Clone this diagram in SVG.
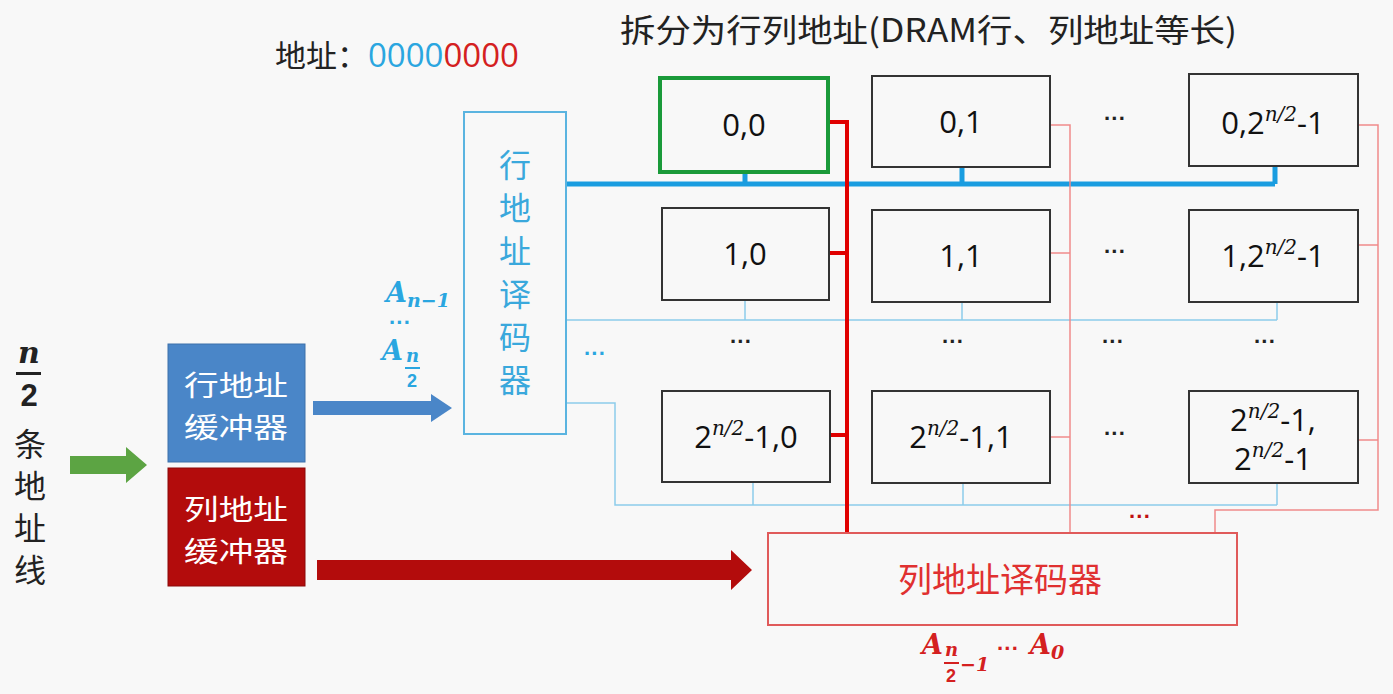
<svg xmlns="http://www.w3.org/2000/svg" width="1393" height="694" viewBox="0 0 1393 694">
<defs>
<style>
.cn{font-family:"Noto Sans CJK SC","Noto Sans",sans-serif;}
.cell{fill:#f8f8f8;stroke:#333;stroke-width:2;}
.ct{font-family:"Open Sans","Liberation Sans",sans-serif;font-size:31px;fill:#111;text-anchor:middle;}
.sup{font-family:"DejaVu Serif","Liberation Serif",serif;font-style:italic;font-size:20px;}
.math{font-family:"DejaVu Serif","Liberation Serif",serif;font-style:italic;font-weight:bold;}
.dots{font-family:"Liberation Sans",sans-serif;font-size:22px;font-weight:bold;text-anchor:middle;}
.bb{stroke:#1a9de0;stroke-width:5;fill:none;}
.bt{stroke:#8cccea;stroke-width:1.5;fill:none;}
.rb{stroke:#e00000;stroke-width:4;fill:none;}
.rt{stroke:#f08a8a;stroke-width:1.5;fill:none;}
.buf{font-size:28px;fill:#fff;text-anchor:middle;}
</style>
</defs>
<rect width="1393" height="694" fill="#f8f8f8"/>

<g id="title">
<text class="cn" x="620" y="42" font-size="32" fill="#222" textLength="617" lengthAdjust="spacingAndGlyphs">拆分为行列地址(DRAM行、列地址等长)</text>
</g>
<g id="addr">
<text class="cn" x="275" y="67" font-size="31" fill="#222">地址：<tspan fill="#2aa6e0" font-size="33" font-family="Open Sans,Liberation Sans,sans-serif">0000</tspan><tspan fill="#d42020" font-size="33" font-family="Open Sans,Liberation Sans,sans-serif">0000</tspan></text>
</g>

<g id="connectors">
<path class="bb" d="M566 184 H1275 M745 172 V184 M962 167 V184 M1275 166 V184"/>
<path class="bt" d="M566 320 H1277 M745 300 V320 M962 302 V320 M1277 302 V320"/>
<path class="bt" d="M566 403 H615 V505 H1277 M753 482 V505 M963 483 V505 M1277 483 V505"/>
<path class="rb" d="M828 122 H847 V533 M829 253 H847 M830 435 H847"/>
<path class="rt" d="M1050 125 H1070 V533 M1050 253 H1070 M1050 437 H1070"/>
<path class="rt" d="M1358 125 H1378 V510 H1215 V533 M1358 245 H1378 M1358 440 H1378"/>
<polygon points="70,456 126,456 126,447 147,465 126,483 126,474 70,474" fill="#5ca443"/>
<polygon points="313,401 431,401 431,394 452,408 431,422 431,415 313,415" fill="#4a86c8"/>
<polygon points="317,560 731,560 731,550 752,570 731,590 731,580 317,580" fill="#b30c0c"/>
</g>

<g id="cell-0-0"><rect x="660" y="78" width="168" height="94" fill="#f8f8f8" stroke="#1a9a3a" stroke-width="4"/><text class="ct" x="744" y="136">0,0</text></g>
<g id="cell-0-1"><rect class="cell" x="872" y="76" width="178" height="91"/><text class="ct" x="961" y="133">0,1</text></g>
<g id="cell-0-n"><rect class="cell" x="1189" y="74" width="169" height="92"/><text class="ct" x="1273" y="134">0,2<tspan class="sup" dy="-13">n/2</tspan><tspan dy="13">-1</tspan></text></g>

<g id="cell-1-0"><rect class="cell" x="662" y="208" width="167" height="92"/><text class="ct" x="745" y="265">1,0</text></g>
<g id="cell-1-1"><rect class="cell" x="872" y="210" width="178" height="92"/><text class="ct" x="961" y="267">1,1</text></g>
<g id="cell-1-n"><rect class="cell" x="1189" y="210" width="169" height="92"/><text class="ct" x="1273" y="267">1,2<tspan class="sup" dy="-13">n/2</tspan><tspan dy="13">-1</tspan></text></g>

<g id="cell-m-0"><rect class="cell" x="662" y="391" width="168" height="91"/><text class="ct" x="746" y="448">2<tspan class="sup" dy="-13">n/2</tspan><tspan dy="13">-1,0</tspan></text></g>
<g id="cell-m-1"><rect class="cell" x="872" y="391" width="178" height="92"/><text class="ct" x="961" y="448">2<tspan class="sup" dy="-13">n/2</tspan><tspan dy="13">-1,1</tspan></text></g>
<g id="cell-m-n"><rect class="cell" x="1189" y="391" width="169" height="92"/><text class="ct" x="1273" y="431">2<tspan class="sup" dy="-13">n/2</tspan><tspan dy="13">-1,</tspan></text><text class="ct" x="1273" y="470">2<tspan class="sup" dy="-13">n/2</tspan><tspan dy="13">-1</tspan></text></g>

<g id="ellipses">
<text class="dots" x="1115" y="126" fill="#222">···</text>
<text class="dots" x="1115" y="259" fill="#222">···</text>
<text class="dots" x="1115" y="441" fill="#222">···</text>
<text class="dots" x="741" y="349" fill="#222">···</text>
<text class="dots" x="953" y="349" fill="#222">···</text>
<text class="dots" x="1113" y="349" fill="#222">···</text>
<text class="dots" x="1265" y="349" fill="#222">···</text>
<text class="dots" x="595" y="361" fill="#2aa6e0">···</text>
<text class="dots" x="1140" y="524" fill="#c01010">···</text>
</g>

<g id="row-decoder">
<rect x="464" y="112" width="102" height="322" fill="#f8f8f8" stroke="#5ab4e0" stroke-width="2"/>
<g class="cn" font-size="32" fill="#3aa8dc" text-anchor="middle">
<text x="515" y="177">行</text><text x="515" y="220">地</text><text x="515" y="263">址</text><text x="515" y="306">译</text><text x="515" y="349">码</text><text x="515" y="392">器</text>
</g>
</g>

<g id="col-decoder">
<rect x="768" y="533" width="469" height="92" fill="#f8f8f8" stroke="#e05a5a" stroke-width="2"/>
<text class="cn" x="1000" y="592" font-size="34" fill="#e03030" text-anchor="middle">列地址译码器</text>
</g>

<g id="row-buffer">
<rect x="168" y="344" width="137" height="118" fill="#4a86c8" stroke="#3d70aa" stroke-width="1"/>
<text class="cn buf" x="236" y="396" textLength="104" lengthAdjust="spacingAndGlyphs">行地址</text>
<text class="cn buf" x="236" y="438" textLength="104" lengthAdjust="spacingAndGlyphs">缓冲器</text>
</g>
<g id="col-buffer">
<rect x="168" y="468" width="137" height="118" fill="#b30c0c" stroke="#8a0808" stroke-width="1"/>
<text class="cn buf" x="236" y="520" textLength="104" lengthAdjust="spacingAndGlyphs">列地址</text>
<text class="cn buf" x="236" y="562" textLength="104" lengthAdjust="spacingAndGlyphs">缓冲器</text>
</g>

<g id="left-label">
<text class="math" x="29" y="363" font-size="30" fill="#222" text-anchor="middle">n</text>
<rect x="16" y="372" width="25" height="3" fill="#222"/>
<text x="29" y="406" font-size="31" font-weight="bold" fill="#222" text-anchor="middle" font-family="Liberation Sans,sans-serif">2</text>
<g class="cn" font-size="32" fill="#222" text-anchor="middle">
<text x="30" y="456">条</text><text x="30" y="498">地</text><text x="30" y="540">址</text><text x="30" y="582">线</text>
</g>
</g>

<g id="row-addr-label" fill="#2aa6e0">
<text class="math" x="386" y="302" font-size="27">A<tspan font-size="19" dy="5">n−1</tspan></text>
<text class="dots" x="400" y="330">···</text>
<text class="math" x="382" y="360" font-size="27">A</text>
<text class="math" x="406" y="362" font-size="18">n</text>
<rect x="405" y="367" width="15" height="2" fill="#2aa6e0"/>
<text x="407" y="387" font-size="18" font-weight="bold" font-family="Liberation Sans,sans-serif">2</text>
</g>

<g id="col-addr-label" fill="#d42020">
<text class="math" x="922" y="654" font-size="27">A</text>
<text class="math" x="945" y="656" font-size="18">n</text>
<rect x="944" y="662" width="15" height="2" fill="#d42020"/>
<text x="946" y="682" font-size="18" font-weight="bold" font-family="Liberation Sans,sans-serif">2</text>
<text class="math" x="960" y="671" font-size="19">−1</text>
<text class="dots" x="1008" y="656">···</text>
<text class="math" x="1030" y="654" font-size="27">A<tspan font-size="19" dy="5">0</tspan></text>
</g>
</svg>
